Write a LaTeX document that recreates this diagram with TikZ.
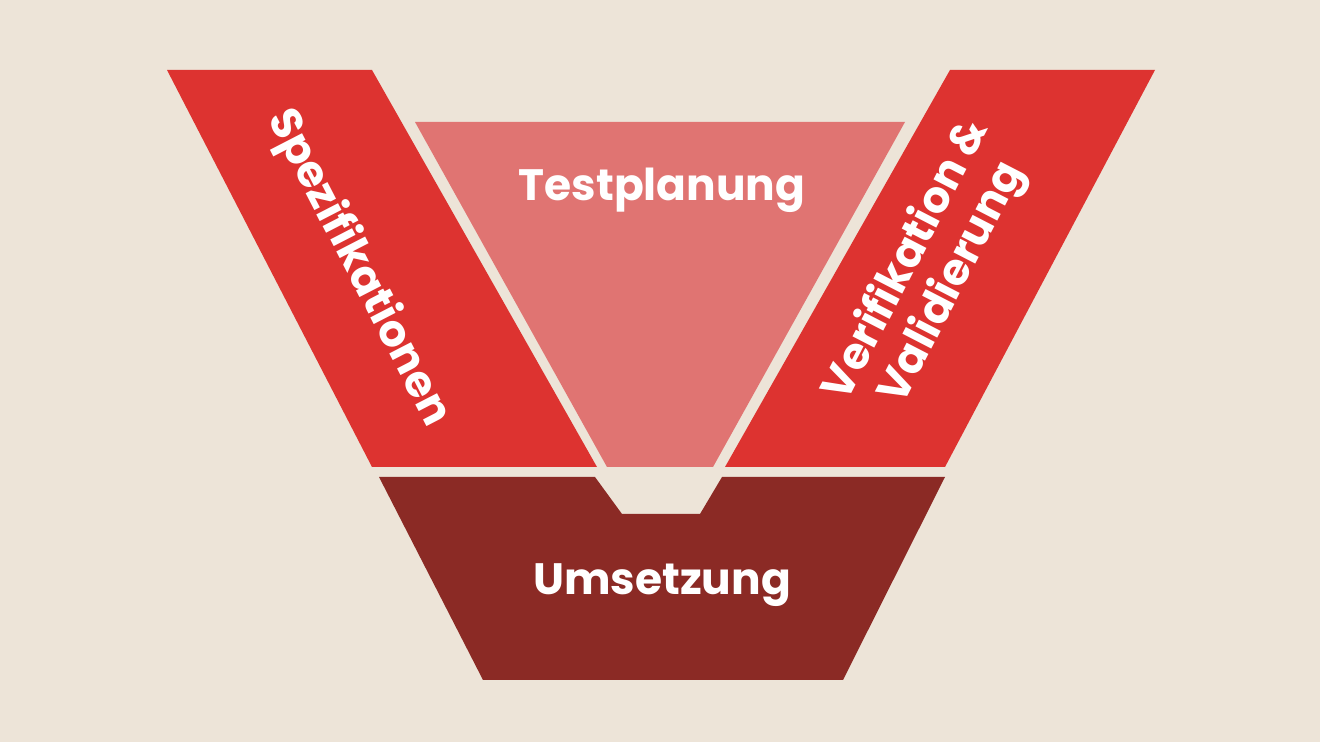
\documentclass[tikz,border=0pt]{standalone}
\usepackage{fontspec}
\setmainfont{Poppins}
\begin{document}
\begin{tikzpicture}[x=0.02cm,y=-0.02cm,
		band/.style={fill=bandred},
		label text/.style={text=white,font=\bfseries\fontsize{25}{29}\selectfont,align=center}]
		\definecolor{bg}{HTML}{EDE4D8}
		\definecolor{bandred}{HTML}{DD3330}
		\definecolor{pinkred}{HTML}{E07472}
		\definecolor{darkred}{HTML}{8B2A25}
		\fill[bg] (0,0) rectangle (1320,742);
		% Seitenbaender
		\fill[band] (167,70) -- (372,70) -- (597,467) -- (372,467) -- cycle;
		\fill[band] (950,70) -- (1155,70) -- (945,467) -- (725,467) -- cycle;
		% Mitte
		\fill[pinkred] (415,122) -- (905,122) -- (713,467) -- (607,467) -- cycle;
		\fill[darkred] (379,477) -- (595,477) -- (622,514) -- (700,514) -- (722,477)
			-- (945,477) -- (843,680) -- (483,680) -- cycle;
		% Beschriftung
		\node[label text] (tp) at (662,190) {Testplanung};
		\node[label text] (um) at (662,585) {Umsetzung};
		\node[label text,rotate=-62.7] (sp) at (358,268) {Spezifikationen};
		\node[label text,rotate=62.7,align=center] (vv) at (930,272) {Verifikation \&\\Validierung};
\end{tikzpicture}
\end{document}
